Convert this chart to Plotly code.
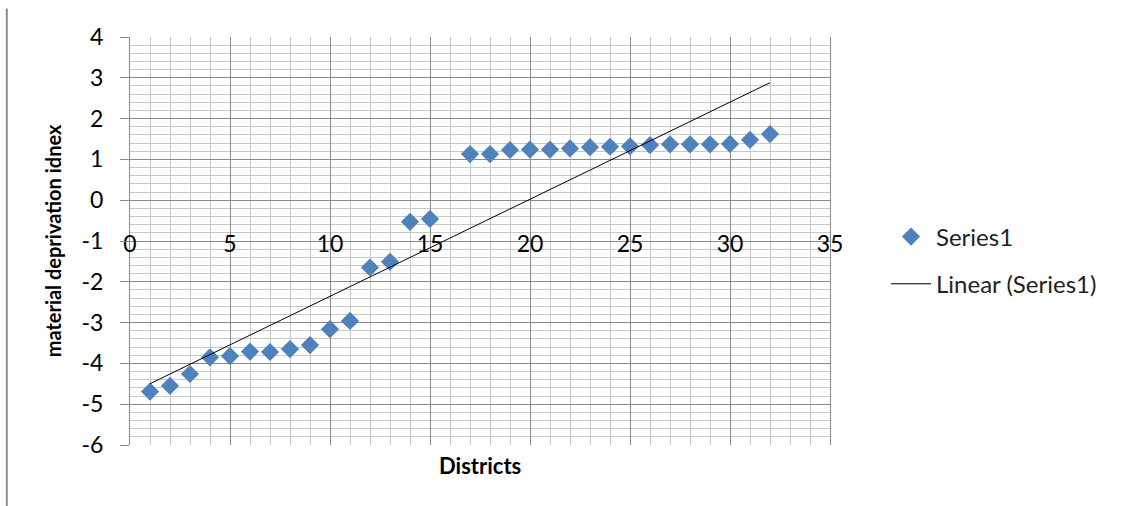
import numpy as np
import plotly.graph_objects as go

# District rank (district 16 has no value) and material deprivation index
districts = [1, 2, 3, 4, 5, 6, 7, 8, 9, 10, 11, 12, 13, 14, 15,
             17, 18, 19, 20, 21, 22, 23, 24, 25, 26, 27, 28, 29, 30, 31, 32]
deprivation = [-4.69, -4.55, -4.26, -3.85, -3.82, -3.71, -3.72, -3.65, -3.55, -3.16,
               -2.96, -1.65, -1.51, -0.53, -0.46,
               1.13, 1.13, 1.23, 1.24, 1.24, 1.27, 1.30, 1.31, 1.32, 1.35,
               1.37, 1.37, 1.37, 1.38, 1.48, 1.62]

x_ticks = [0, 5, 10, 15, 20, 25, 30, 35]
y_ticks = [-6, -5, -4, -3, -2, -1, 0, 1, 2, 3, 4]

# least-squares trend line over the observed districts
slope, intercept = np.polyfit(districts, deprivation, 1)
trend_x = [min(districts), max(districts)]
trend_y = [slope * v + intercept for v in trend_x]

FONT = "Lato"
MAJOR = "#8a8a8a"
MINOR = "#c8c8c8"

fig = go.Figure()
fig.add_trace(go.Scatter(
    x=districts, y=deprivation, mode="markers", name="Series1",
    legendgroup="a",
    marker=dict(symbol="diamond", size=14, color="#4F81BD"),
))
fig.add_trace(go.Scatter(
    x=trend_x, y=trend_y, mode="lines", name="Linear (Series1)",
    legendgroup="b",
    line=dict(color="black", width=1),
))

fig.update_layout(
    width=1125, height=506,
    margin=dict(l=130, r=295, t=37, b=61),
    paper_bgcolor="white", plot_bgcolor="white",
    font=dict(family=FONT, size=16, color="black"),
    legend=dict(
        x=1.08, y=0.565, xanchor="left", yanchor="top",
        font=dict(family=FONT, size=24, color="#222222"),
        itemwidth=40,
        tracegroupgap=13, bgcolor="rgba(0,0,0,0)",
    ),
    xaxis=dict(
        range=[0, 35], tickvals=x_ticks, ticktext=[str(v) for v in x_ticks],
        anchor="free", position=0.532,
        showline=False, zeroline=False, ticks="",
        showgrid=True, gridcolor=MAJOR, gridwidth=1,
        minor=dict(dtick=1, showgrid=True, gridcolor=MINOR, gridwidth=1),
        tickfont=dict(family=FONT, size=23, color="black"),
    ),
    yaxis=dict(
        range=[-6, 4], tickvals=y_ticks, ticktext=[str(v) for v in y_ticks],
        showline=True, linecolor=MAJOR, linewidth=1, mirror=True,
        zeroline=False, ticks="outside", ticklen=9, tickcolor=MAJOR,
        ticklabelstandoff=12,
        showgrid=True, gridcolor=MAJOR, gridwidth=1,
        minor=dict(dtick=0.2, showgrid=True, gridcolor=MINOR, gridwidth=1),
        tickfont=dict(family=FONT, size=23, color="black"),
        title=dict(text="<b>material deprivation idnex</b>",
                   font=dict(family=FONT, size=20, color="black"), standoff=14),
    ),
)

fig.add_annotation(
    text="<b>Districts</b>", x=0.5, y=-0.012, xref="paper", yref="paper",
    xanchor="center", yanchor="top", showarrow=False,
    font=dict(family=FONT, size=22, color="black"),
)

# frame edge on the left of the figure
fig.add_shape(type="line", xref="paper", yref="paper",
              x0=-0.176, x1=-0.176, y0=1.07, y1=-0.16,
              line=dict(color="#8c8c8c", width=2))

fig.write_html("out.html")
